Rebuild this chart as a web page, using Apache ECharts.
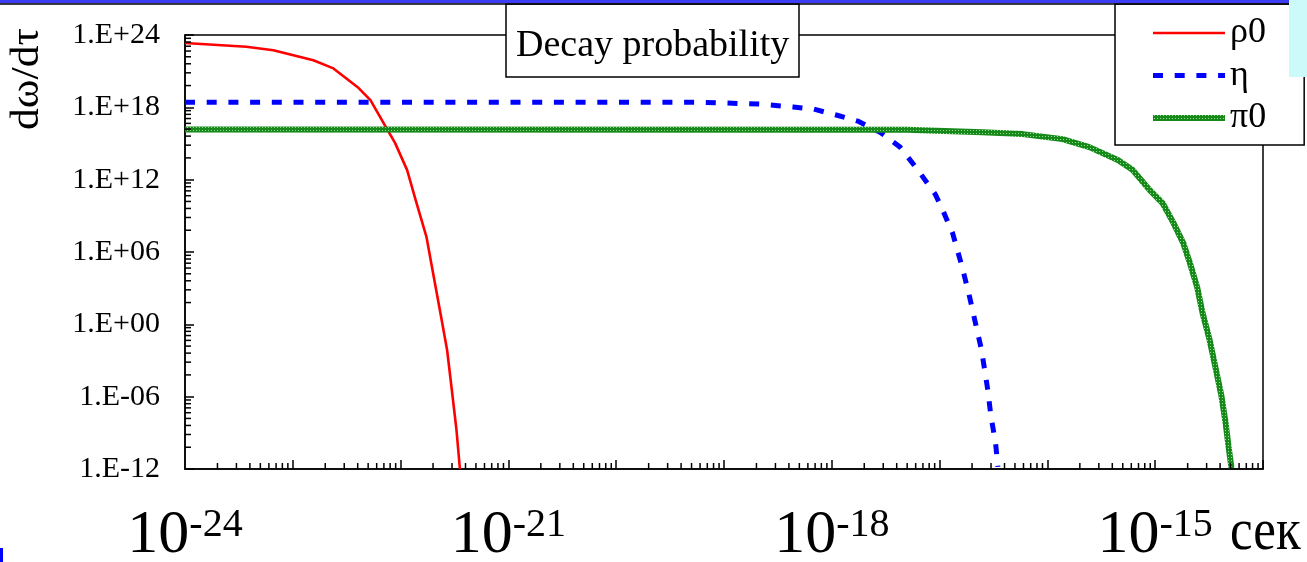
<!DOCTYPE html>
<html>
<head>
<meta charset="utf-8">
<script src="https://cdn.jsdelivr.net/npm/echarts@6/dist/echarts.min.js"></script>
<style>
html,body{margin:0;padding:0;background:#fff;}
#chart{width:1307px;height:562px;}
</style>
</head>
<body>
<div id="chart"></div>
<script>
// ---- data ----
const rhoTime = [1.0e-24, 3.7e-24, 6.6e-24, 1.55e-23, 2.35e-23, 4.0e-23, 5.25e-23, 7.4e-23, 8.9e-23, 1.15e-22, 1.38e-22, 1.74e-22, 2.0e-22, 2.34e-22, 2.7e-22, 2.95e-22, 3.3e-22, 3.55e-22];
const rhoProb = [2.2e23, 1.05e23, 5.5e22, 8.1e21, 1.8e21, 4.7e19, 4.0e18, 1.9e16, 1.07e15, 6.2e12, 2.0e10, 1.7e7, 1.8e4, 8.7, 7.4e-3, 9.3e-6, 1.7e-9, 1.0e-12];

const etaTime = [1.0e-24, 6.5e-20, 2.15e-19, 4.4e-19, 6.8e-19, 1.12e-18, 1.74e-18, 2.8e-18, 4.3e-18, 6.3e-18, 9.1e-18, 1.05e-17, 1.32e-17, 1.62e-17, 1.9e-17, 2.14e-17, 2.45e-17, 2.8e-17, 3.0e-17, 3.3e-17, 3.47e-17];
const etaProb = [2.6e18, 2.6e18, 1.86e18, 1.05e18, 7.1e17, 2.2e17, 7.2e16, 8.7e15, 5.0e14, 6.2e12, 6.3e10, 4.4e9, 3.7e7, 5.6e4, 180, 1.55, 7.4e-3, 3.5e-6, 2.0e-8, 1.7e-10, 1.5e-12];

const pi0Time = [1.0e-24, 5.0e-18, 2.5e-17, 5.9e-17, 1.38e-16, 2.45e-16, 4.5e-16, 6.2e-16, 8.9e-16, 1.17e-15, 1.48e-15, 1.82e-15, 2.1e-15, 2.45e-15, 2.75e-15, 3.2e-15, 3.55e-15, 4.1e-15, 4.5e-15, 4.8e-15, 5.1e-15];
const pi0Prob = [1.48e16, 1.41e16, 8.7e15, 6.0e15, 2.3e15, 5.0e14, 4.2e13, 6.2e12, 1.35e11, 1.15e10, 2.5e8, 5.5e6, 1.2e5, 1.2e3, 8.7, 0.05, 6.2e-4, 1.4e-6, 6.5e-9, 6.6e-11, 1.2e-12];

const seriesNames = ['ρ0', 'η', 'π0'];
const xLabelExponents = [-24, -21, -18, -15];
const xMin = 1e-24, xMax = 1e-14;
const yMin = 1e-12, yMax = 1e24;
const minorMultipliers = [2, 3, 4, 5, 6, 7, 8, 9];
const titleText = 'Decay probability';
const yName = 'dω/dτ';
const xUnit = 'сек';

// ---- build ----
const FONT = 'Liberation Serif';
const pairs = (xs, ys) => xs.map((x, i) => [x, ys[i]]);

// minor tick values (x: 2..9 per decade; y: base-1e6 axis, k^6 per step)
const xMinor = [];
for (let e = -24; e < -14; e++) minorMultipliers.forEach(k => xMinor.push(k * Math.pow(10, e)));
const yMinor = [];
for (let e = -2; e < 4; e++) minorMultipliers.forEach(k => yMinor.push(Math.pow(k, 6) * Math.pow(1e6, e)));

// green textured stroke pattern
const pc = document.createElement('canvas');
pc.width = 3; pc.height = 3;
const pctx = pc.getContext('2d');
pctx.fillStyle = '#17891a'; pctx.fillRect(0, 0, 3, 3);
pctx.fillStyle = '#8fdc8f'; pctx.fillRect(1, 1, 1, 1);
const greenPattern = { image: pc, repeat: 'repeat' };

const chart = echarts.init(document.getElementById('chart'), null, { renderer: 'canvas' });

function yFmt(v) {
  const e = Math.round(Math.log10(v));
  const s = e < 0 ? '-' : '+';
  const a = Math.abs(e);
  return '1.E' + s + (a < 10 ? '0' + a : '' + a);
}
function tickRenderer(dx, dy) {
  return (p, api) => {
    const pt = api.coord([api.value(0), api.value(1)]);
    return { type: 'line', shape: { x1: pt[0], y1: pt[1], x2: pt[0] + dx, y2: pt[1] + dy }, style: { stroke: '#000', lineWidth: 1.5 } };
  };
}
const xLabelRich = {
  b: { fontFamily: FONT, fontSize: 62, lineHeight: 62, fill: '#000', color: '#000' },
  s: { fontFamily: FONT, fontSize: 40, lineHeight: 40, verticalAlign: 'top', fill: '#000', color: '#000' }
};

const option = {
  animation: false,
  backgroundColor: '#fff',
  title: {
    text: titleText, left: 506, top: 4,
    padding: [23, 10, 12, 10],
    borderColor: '#000', borderWidth: 1.5, backgroundColor: '#fff',
    textStyle: { fontFamily: FONT, fontSize: 38, fontWeight: 'normal', color: '#000' }
  },
  legend: {
    orient: 'vertical', left: 1115, top: 4,
    padding: [11, 38, 9, 35], itemGap: 6.5, itemWidth: 72, itemHeight: 14,
    borderColor: '#000', borderWidth: 1.5, backgroundColor: '#fff',
    itemStyle: { opacity: 0 },
    textStyle: { fontFamily: FONT, fontSize: 36, color: '#000' },
    data: [
      { name: seriesNames[0], lineStyle: { width: 2.6 } },
      { name: seriesNames[1], lineStyle: { width: 5, type: [10, 11.7], cap: 'butt' } },
      { name: seriesNames[2], lineStyle: { width: 6 } }
    ]
  },
  grid: { left: 185, top: 35, right: 44, bottom: 93, outerBoundsMode: 'none', containLabel: false,
          show: true, borderColor: '#000', borderWidth: 1.5, backgroundColor: 'transparent' },
  xAxis: {
    type: 'log', logBase: 10, min: xMin, max: xMax, interval: 1, splitNumber: 10,
    axisLine: { show: true, onZero: false, lineStyle: { color: '#000', width: 1.5 } },
    axisTick: { show: true, inside: true, length: 9, lineStyle: { color: '#000', width: 1.5 } },
    splitLine: { show: false },
    axisLabel: { show: false }
  },
  yAxis: {
    type: 'log', logBase: 1e6, min: yMin, max: yMax, interval: 1, splitNumber: 6,
    axisLine: { show: true, onZero: false, lineStyle: { color: '#000', width: 1.5 } },
    axisTick: { show: true, inside: true, length: 9, lineStyle: { color: '#000', width: 1.5 } },
    splitLine: { show: false },
    axisLabel: { margin: 25, formatter: yFmt, fontFamily: FONT, fontSize: 30, color: '#000', showMinLabel: true, showMaxLabel: true }
  },
  series: [
    {
      name: seriesNames[0], type: 'line', data: pairs(rhoTime, rhoProb), symbol: 'none', z: 3,
      lineStyle: { color: '#ff0000', width: 2.6 }, itemStyle: { color: '#ff0000' },
      emphasis: { disabled: true }
    },
    {
      name: seriesNames[1], type: 'line', data: pairs(etaTime, etaProb), symbol: 'none', z: 3,
      lineStyle: { color: '#0000ff', width: 5, type: [10, 11.7], cap: 'butt' }, itemStyle: { color: '#0000ff' },
      emphasis: { disabled: true }
    },
    {
      name: seriesNames[2], type: 'line', data: pairs(pi0Time, pi0Prob), symbol: 'none', z: 3,
      lineStyle: { color: greenPattern, width: 6 }, itemStyle: { color: '#17891a' },
      emphasis: { disabled: true }
    },
    {
      type: 'custom', coordinateSystem: 'cartesian2d', silent: true, clip: false, z: 4,
      data: xMinor.map(v => [v, yMin]), renderItem: tickRenderer(0, -6)
    },
    {
      type: 'custom', coordinateSystem: 'cartesian2d', silent: true, clip: false, z: 4,
      data: yMinor.map(v => [xMin, v]), renderItem: tickRenderer(6, 0)
    },
    {
      // x-axis tick labels 10^n, placed at their tick values through the axis scale
      type: 'custom', coordinateSystem: 'cartesian2d', silent: true, clip: false, z: 4,
      data: xLabelExponents.map(e => [Math.pow(10, e), yMin, e]),
      renderItem: (p, api) => {
        const pt = api.coord([api.value(0), api.value(1)]);
        return {
          type: 'text', x: pt[0], y: pt[1] + 36,
          style: { text: '{b|10}{s|' + api.value(2) + '}', rich: xLabelRich, align: 'center', verticalAlign: 'top', fill: '#000' }
        };
      }
    }
  ],
  graphic: [
    { type: 'rect', z: 100, shape: { x: 0, y: 0, width: 1289, height: 3.3 }, style: { fill: '#3c3cf2' } },
    { type: 'rect', z: 100, shape: { x: 0, y: 3.3, width: 1289, height: 1.5 }, style: { fill: '#000' } },
    { type: 'rect', z: 100, shape: { x: 1289, y: 0, width: 18, height: 77 }, style: { fill: '#ccfafa' } },
    { type: 'rect', z: 100, shape: { x: 0, y: 548, width: 3, height: 14 }, style: { fill: '#0000ff' } },
    { type: 'text', z: 100, x: 27.5, y: 79, rotation: Math.PI / 2, scaleX: 1.12,
      style: { text: yName, font: '39px "Liberation Serif"', fill: '#000', align: 'center', verticalAlign: 'middle' } },
    { type: 'text', z: 100, x: 1230, y: 533, scaleX: 0.85,
      style: { text: xUnit, font: '60px "Liberation Serif"', fill: '#000', align: 'left', verticalAlign: 'middle' } }
  ]
};
chart.setOption(option);
</script>
</body>
</html>
